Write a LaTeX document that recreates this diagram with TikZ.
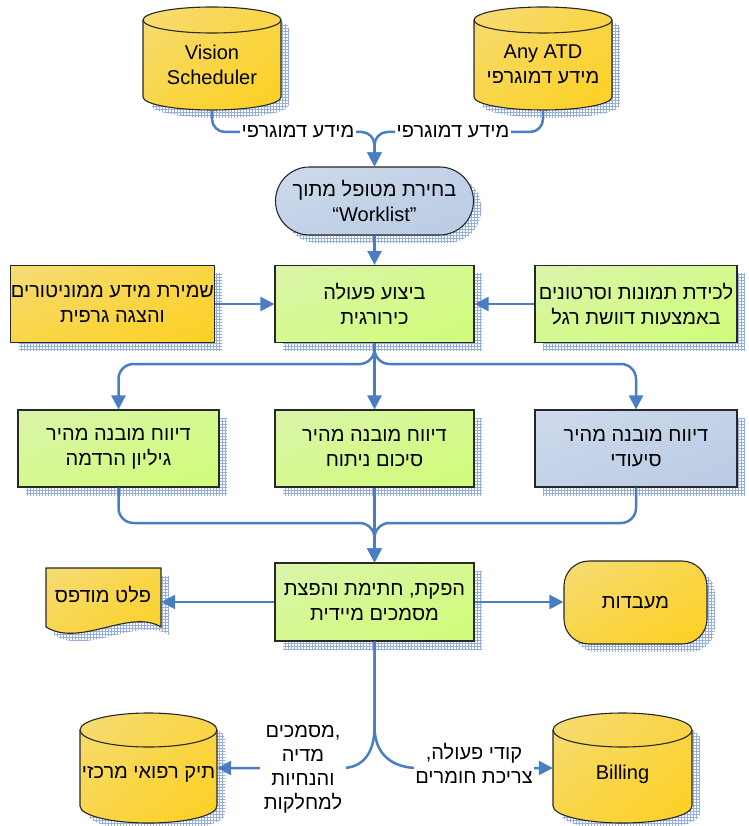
\documentclass[tikz,border=0pt]{standalone}
\usepackage{fontspec}
\setmainfont{Liberation Sans}
\newfontfamily\heb[Script=Hebrew]{Liberation Sans}
\TeXXeTstate=1
\usetikzlibrary{arrows.meta,shadows,patterns}
\newcommand{\HE}[1]{{\heb\beginR #1\endR}}
% diagonal shadings normalised to the shape's box: light top-left, saturated bottom-right
\pgfdeclarefunctionalshading{diagO}{\pgfpoint{-50bp}{-50bp}}{\pgfpoint{50bp}{50bp}}{}{
 sub 200 div 0.5 add
 dup 0 lt {pop 0} if dup 1 gt {pop 1} if
 0.6 exp
 dup 0.067 mul 0.933 add exch
 dup -0.110 mul 0.910 add exch
 -0.831 mul 0.831 add
}
\pgfdeclarefunctionalshading{diagG}{\pgfpoint{-50bp}{-50bp}}{\pgfpoint{50bp}{50bp}}{}{
 sub 200 div 0.5 add
 dup 0 lt {pop 0} if dup 1 gt {pop 1} if
 0.6 exp
 dup -0.102 mul 0.902 add exch
 dup 0.075 mul 0.925 add exch
 -0.486 mul 0.886 add
}
\pgfdeclarefunctionalshading{diagB}{\pgfpoint{-50bp}{-50bp}}{\pgfpoint{50bp}{50bp}}{}{
 sub 200 div 0.5 add
 dup 0 lt {pop 0} if dup 1 gt {pop 1} if
 0.6 exp
 dup -0.220 mul 0.910 add exch
 dup -0.160 mul 0.929 add exch
 -0.087 mul 0.965 add
}
\definecolor{connc}{RGB}{74,126,196}
\definecolor{shadc}{RGB}{150,174,220}
\definecolor{edgec}{RGB}{40,40,40}
\tikzset{
  every node/.style={font=\fontsize{20}{25}\selectfont},
  shad/.style={drop shadow={shadow xshift=8pt, shadow yshift=-8pt, opacity=1, pattern=grid, pattern color=shadc}},
  box/.style={rectangle, draw=edgec, line width=1.1pt, align=center, inner sep=0pt, shad},
  greenbox/.style={box, shading=diagG, minimum width=199pt, minimum height=77pt},
  orangebox/.style={box, shading=diagO, minimum width=199pt, minimum height=77pt},
  bluebox/.style={box, shading=diagB, minimum width=199pt, minimum height=77pt},
  cylbody/.style={draw=edgec, line width=1.1pt, shading=diagO},
  cylline/.style={draw=edgec, line width=1.1pt},
  shadowfill/.style={pattern=grid, pattern color=shadc},
  line/.style={draw=connc, line width=2.5pt},
  arr/.style={line, -{Triangle[length=14pt,width=14pt]}},
  lbl/.style={fill=white, inner sep=2pt, align=center, font=\fontsize{20}{24}\selectfont},
  anchorbox/.style={inner sep=0pt, rectangle}
}
% #1 name, #2 left, #3 right, #4 top, #5 bottom, #6 end radius, #7 text
\newcommand{\dbcyl}[7]{%
  \fill[shadowfill] (#2+8,-#4-#6-8) -- (#2+8,-#5+#6-8)
    arc[start angle=180,end angle=360,x radius={(#3-#2)/2},y radius=#6]
    -- (#3+8,-#4-#6-8)
    arc[start angle=0,end angle=180,x radius={(#3-#2)/2},y radius=#6] -- cycle;
  \path[cylbody] (#2,-#4-#6) -- (#2,-#5+#6)
    arc[start angle=180,end angle=360,x radius={(#3-#2)/2},y radius=#6]
    -- (#3,-#4-#6)
    arc[start angle=0,end angle=180,x radius={(#3-#2)/2},y radius=#6] -- cycle;
  \draw[cylline] (#2,-#4-#6) arc[start angle=180,end angle=360,x radius={(#3-#2)/2},y radius=#6];
  \node[anchorbox, minimum width={#3-#2}, minimum height={#5-#4}] (#1) at ({(#2+#3)/2},{-(#4+#5)/2}) {};
  \node[align=center, inner sep=0pt] (#1-t) at ({(#2+#3)/2},{-(#4+#5)/2-6}) {#7};
}
\begin{document}
\begin{tikzpicture}[x=1pt,y=1pt]
\useasboundingbox (0,0) rectangle (748,-826);

% databases
\dbcyl{vision}{143}{281}{7}{110}{13}{Vision\\Scheduler}
\dbcyl{atd}{474}{612}{7}{110}{13}{Any ATD\\\HE{מידע דמוגרפי}}
\dbcyl{cfile}{80}{217}{713}{823}{17}{\HE{תיק רפואי מרכזי}}
\dbcyl{billing}{553}{692}{713}{823}{17}{Billing}

% worklist
\node[bluebox, rounded corners=34pt, minimum width=198pt, minimum height=68pt] (wl) at (374.5,-201) {\HE{בחירת מטופל מתוך}\\“Worklist”};

% row 2
\node[greenbox] (surg) at (374.5,-304) {\HE{ביצוע פעולה}\\\HE{כירורגית}};
\node[orangebox, minimum width=201pt] (monit) at (112.5,-304) {\HE{שמירת מידע ממוניטורים}\\\HE{והצגה גרפית}};
\node[greenbox, minimum width=202pt] (capt) at (636,-304) {\HE{לכידת תמונות וסרטונים}\\\HE{באמצעות דוושת רגל}};

% row 3
\node[greenbox, minimum width=201pt] (anest) at (118.5,-448.5) {\HE{דיווח מובנה מהיר}\\\HE{גיליון הרדמה}};
\node[greenbox] (summ) at (374.5,-448.5) {\HE{דיווח מובנה מהיר}\\\HE{סיכום ניתוח}};
\node[bluebox, minimum width=202pt] (nurs) at (636,-448.5) {\HE{דיווח מובנה מהיר}\\\HE{סיעודי}};

% row 4
\node[greenbox, minimum height=78pt] (prod) at (374.5,-602) {\HE{הפקת, חתימת והפצת}\\\HE{מסמכים מיידית}};
\node[orangebox, rounded corners=25pt, minimum width=143pt, minimum height=83pt] (lab) at (635.5,-602.5) {\HE{מעבדות}};

% printed document
\fill[shadowfill] (54,-576) -- (169,-576) -- (169,-635) .. controls (138,-616) and (88,-656) .. (54,-635) -- cycle;
\path[cylbody] (46,-568) -- (161,-568) -- (161,-627) .. controls (130,-608) and (80,-648) .. (46,-627) -- cycle;
\node[anchorbox, minimum width=115pt, minimum height=59pt] (printd) at (103.5,-597.5) {};
\node[inner sep=0pt] (printd-t) at (103,-595) {\HE{פלט מודפס}};

% connectors top
\draw[arr, rounded corners=13pt] (vision.south) -- (vision.south |- 0,-132) -- (wl.north |- 0,-132) -- (wl.north);
\draw[arr, rounded corners=13pt] (atd.south) -- (atd.south |- 0,-132) -- (wl.north |- 0,-132) -- (wl.north);
\node[lbl] (lv) at (298,-132) {\HE{מידע דמוגרפי}};
\node[lbl] (la) at (453,-132) {\HE{מידע דמוגרפי}};

\draw[arr] (wl.south) -- (surg.north);
\draw[arr] (monit.east) -- (surg.west);
\draw[arr] (capt.west) -- (surg.east);

% row 2 -> row 3
\draw[arr, rounded corners=15pt] (surg.south) -- (surg.south |- 0,-364) -- (anest.north |- 0,-364) -- (anest.north);
\draw[arr] (surg.south) -- (summ.north);
\draw[arr, rounded corners=15pt] (surg.south) -- (surg.south |- 0,-364) -- (nurs.north |- 0,-364) -- (nurs.north);

% row 3 -> row 4
\draw[arr, rounded corners=15pt] (anest.south) -- (anest.south |- 0,-523) -- (prod.north |- 0,-523) -- (prod.north);
\draw[arr] (summ.south) -- (prod.north);
\draw[arr, rounded corners=15pt] (nurs.south) -- (nurs.south |- 0,-523) -- (prod.north |- 0,-523) -- (prod.north);

% row 4 sides
\draw[arr] (prod.west) -- (printd.east |- prod.west);
\draw[arr] (prod.east) -- (lab.west |- prod.east);

% bottom split
\draw[arr] (prod.south) -- (prod.south |- 0,-727) .. controls (374.5,-754) and (362,-768) .. (342,-768) -- (cfile.east);
\draw[arr] (prod.south) -- (prod.south |- 0,-727) .. controls (374.5,-754) and (392,-768) .. (418,-768) -- (billing.west);
\node[lbl, inner sep=4pt] (lm) at (303,-769) {\HE{מסמכים},\\\HE{מדיה}\\\HE{והנחיות}\\\HE{למחלקות}};
\node[lbl, inner sep=1pt] (lb) at (474,-763) {\HE{קודי פעולה,}\\\HE{צריכת חומרים}};
\end{tikzpicture}
\end{document}
